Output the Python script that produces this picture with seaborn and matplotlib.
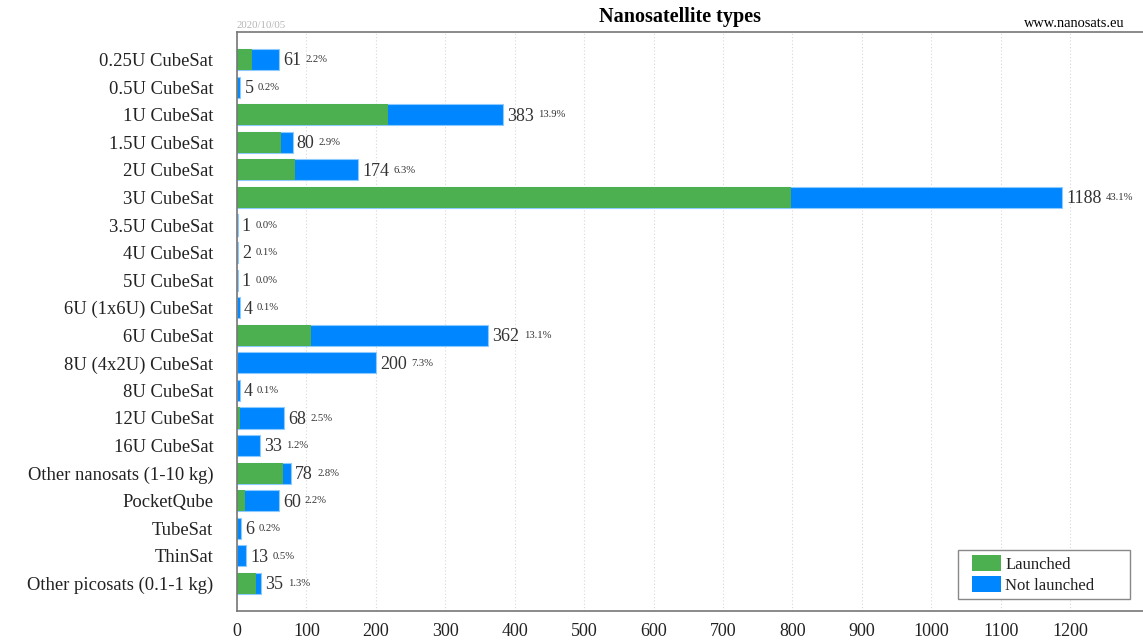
import matplotlib
matplotlib.use("Agg")
import matplotlib.pyplot as plt
import seaborn as sns
import pandas as pd
from matplotlib.patches import Patch, Rectangle

categories = [
    "0.25U CubeSat", "0.5U CubeSat", "1U CubeSat", "1.5U CubeSat", "2U CubeSat",
    "3U CubeSat", "3.5U CubeSat", "4U CubeSat", "5U CubeSat", "6U (1x6U) CubeSat",
    "6U CubeSat", "8U (4x2U) CubeSat", "8U CubeSat", "12U CubeSat", "16U CubeSat",
    "Other nanosats (1-10 kg)", "PocketQube", "TubeSat", "ThinSat",
    "Other picosats (0.1-1 kg)",
]
totals = [61, 5, 383, 80, 174, 1188, 1, 2, 1, 4, 362, 200, 4, 68, 33, 78, 60, 6, 13, 35]
launched = [21, 2, 217, 63, 84, 798, 0, 0, 0, 0, 106, 0, 0, 5, 1, 66, 11, 2, 0, 28]
x_ticks = list(range(0, 1300, 100))

GREEN = "#4caf50"
BLUE = "#0086ff"
SERIF = ["Liberation Serif", "DejaVu Serif"]

df = pd.DataFrame({"type": categories, "total": totals, "launched": launched})
df["pct"] = df["total"] / df["total"].sum() * 100

sns.set_style("white")
plt.rcParams["font.family"] = SERIF

fig = plt.figure(figsize=(11.43, 6.42), dpi=100)
ax = fig.add_axes([237 / 1143, 1 - 611 / 642, 1 - 237 / 1143, (611 - 32) / 642])

sns.barplot(data=df, x="total", y="type", orient="h", color=BLUE, saturation=1,
            width=0.77, errorbar=None, edgecolor="#8ccaff", linewidth=0.8, ax=ax)
sns.barplot(data=df, x="launched", y="type", orient="h", color=GREEN, saturation=1,
            width=0.77, errorbar=None, linewidth=0, ax=ax)

ax.set_xlim(0, 1305)
ax.set_ylim(len(categories), -1)
ax.set_xticks(x_ticks)
ax.set_xlabel("")
ax.set_ylabel("")
ax.tick_params(axis="x", length=0, pad=9, labelsize=13, labelcolor="#222222")
ax.tick_params(axis="y", length=0, pad=17, labelsize=13.4, labelcolor="#222222")
ax.grid(axis="x", linestyle=(0, (1, 2)), color="#d8d8d8", linewidth=0.8)
ax.set_axisbelow(True)
for side in ["top", "bottom", "left"]:
    ax.spines[side].set_color("#777777")
    ax.spines[side].set_linewidth(1.2)
ax.spines["right"].set_visible(False)

# value labels with small percentage next to them
for i, row in df.iterrows():
    num = ax.annotate(f"{row['total']}", xy=(row["total"], i), xytext=(3, -1),
                      textcoords="offset points", va="center", ha="left",
                      fontsize=13, color="#333333")
    ax.annotate(f"{row['pct']:.1f}%", xy=(1, 1), xycoords=num, xytext=(3, -2),
                textcoords="offset points", va="top", ha="left",
                fontsize=7.7, color="#333333")

fig.text(680 / 1143, 1 - 22 / 642, "Nanosatellite types", ha="center", va="baseline",
         fontsize=14.5, fontweight="bold", color="black")
fig.text(237 / 1143, 1 - 28 / 642, "2020/10/05", ha="left", va="baseline",
         fontsize=7.8, color="#b5b5b5")
fig.text(1125 / 1143, 1 - 27 / 642, "www.nanosats.eu", ha="right", va="baseline",
         fontsize=10.4, color="black")

# legend box is wider than its content, so draw the frame separately
ax.add_patch(Rectangle((958 / 1143, 1 - 599 / 642), (1130 - 958) / 1143, 49 / 642,
                       transform=fig.transFigure, facecolor="white", clip_on=False,
                       edgecolor="#888888", linewidth=1, zorder=4.5))
handles = [Patch(facecolor=GREEN, edgecolor="none", label="Launched"),
           Patch(facecolor=BLUE, edgecolor="none", label="Not launched")]
leg = ax.legend(handles=handles, loc="upper left", bbox_to_anchor=(972 / 1143, 1 - 555 / 642),
                bbox_transform=fig.transFigure, borderaxespad=0, frameon=False,
                fontsize=12, handlelength=1.75, handleheight=1.1, handletextpad=0.25,
                labelspacing=0.2, borderpad=0)
leg.set_zorder(6)
for t in leg.get_texts():
    t.set_color("#222222")

fig.savefig("out.png", dpi=100)
